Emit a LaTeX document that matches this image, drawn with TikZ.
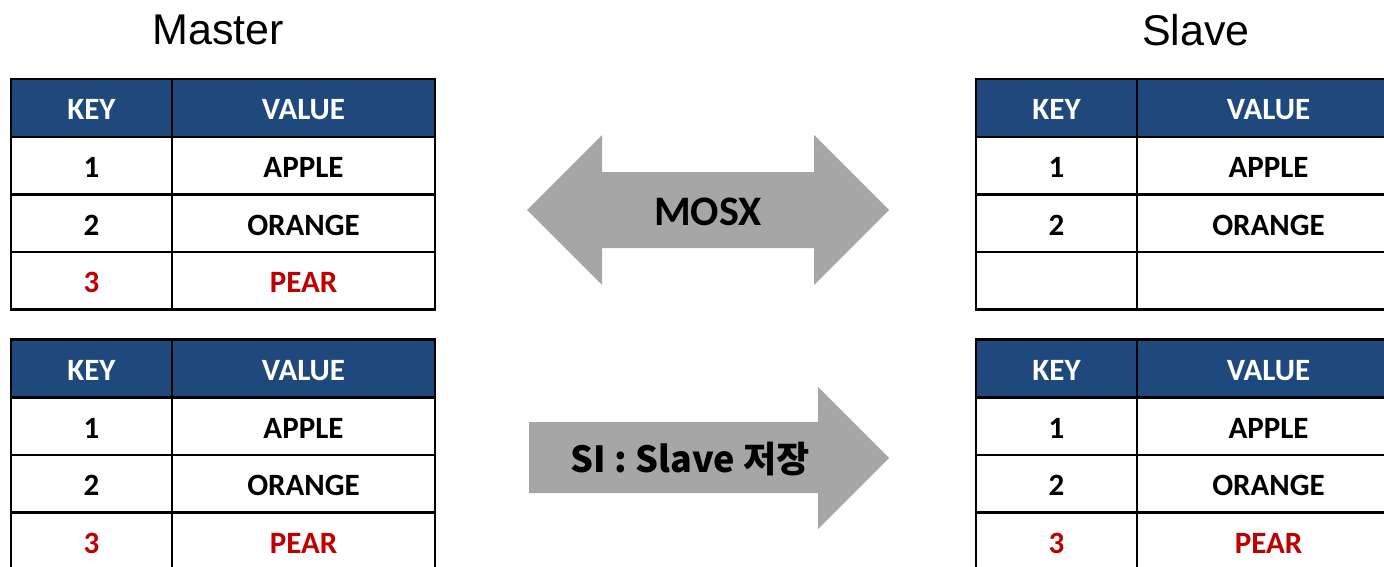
\documentclass[tikz,border=0pt]{standalone}
\usepackage{fontspec}
\setmainfont{Carlito}
\newfontfamily\titlefont{Liberation Sans}
\newfontfamily\cjk{Noto Sans CJK KR}
\definecolor{headblue}{HTML}{1F497D}
\definecolor{newred}{HTML}{C00000}
\definecolor{arrowgray}{HTML}{A6A6A6}
\tikzset{
  cell/.style={draw=black, line width=2.5pt, inner sep=0pt, outer sep=0pt,
    text height=24pt, text depth=0pt,
    anchor=north west, font=\fontsize{31}{31}\selectfont\bfseries, text=black},
  keycell/.style={cell, minimum width=161pt},
  valcell/.style={cell, minimum width=263pt},
  headcell/.style={fill=headblue, text=white},
  newrow/.style={text=newred},
  title/.style={font=\titlefont\fontsize{43}{43}\selectfont},
  blockarrow/.style={fill=arrowgray, draw=none},
}
% one key/value table: #1 name prefix, #2 left x, #3 top y, #4/#5 third row
\newcommand{\kvtable}[5]{%
  \node[keycell, headcell, minimum height=58pt] (#1h1) at (#2,#3) {KEY};
  \node[valcell, headcell, minimum height=58pt] (#1h2) at (#1h1.north east) {VALUE};
  \node[keycell, minimum height=57.5pt] (#1a1) at (#1h1.south west) {1};
  \node[valcell, minimum height=57.5pt] (#1a2) at (#1a1.north east) {APPLE};
  \node[keycell, minimum height=57.5pt] (#1b1) at (#1a1.south west) {2};
  \node[valcell, minimum height=57.5pt] (#1b2) at (#1b1.north east) {ORANGE};
  \node[keycell, newrow, minimum height=57.5pt] (#1c1) at (#1b1.south west) {#4};
  \node[valcell, newrow, minimum height=57.5pt] (#1c2) at (#1c1.north east) {#5};
}
\begin{document}
\begin{tikzpicture}[x=1pt, y=-1pt]
  \useasboundingbox (0,0) rectangle (1384,567);
  \clip (0,0) rectangle (1384,567);
  \fill[white] (0,0) rectangle (1384,567);

  % titles
  \node[title] (master) at (218,30) {Master};
  \node[title] (slave) at (1196,30) {Slave};

  % tables
  \kvtable{mt}{11}{79}{3}{PEAR}
  \kvtable{st}{976}{79}{}{}
  \kvtable{mb}{11}{339.5}{3}{PEAR}
  \kvtable{sb}{976}{339.5}{3}{PEAR}

  % two-way block arrow
  \fill[blockarrow] (527,210) -- (602,135) -- (602,172) -- (814,172) -- (814,135)
    -- (889,210) -- (814,285) -- (814,248) -- (602,248) -- (602,285) -- cycle;
  \node[font=\fontsize{42}{42}\selectfont\bfseries] (mosx) at (708,212) {MOSX};

  % one-way block arrow
  \fill[blockarrow] (529,422) -- (818,422) -- (818,387) -- (889,458)
    -- (818,529) -- (818,493) -- (529,493) -- cycle;
  \node[font=\cjk\fontsize{36}{36}\selectfont\bfseries] (si) at (690,459)
    {SI : Slave 저장};
\end{tikzpicture}
\end{document}
